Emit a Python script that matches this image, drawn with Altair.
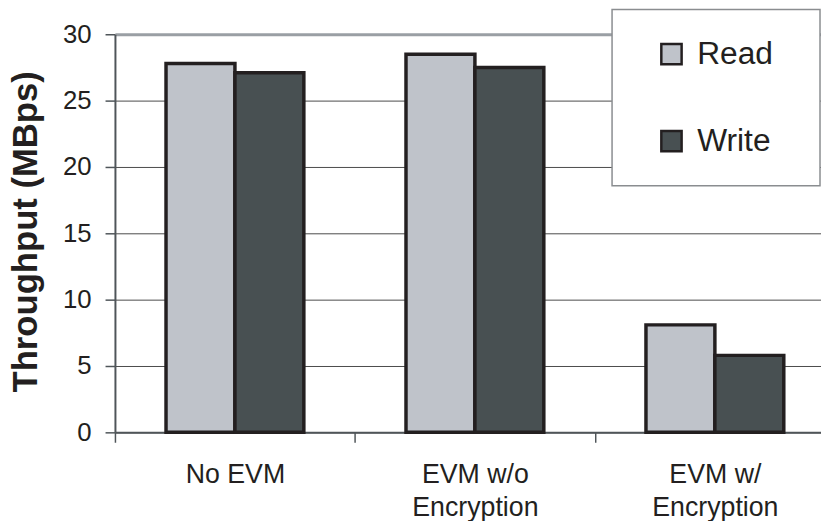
import altair as alt
import pandas as pd

categories = ["No EVM", "EVM w/o\nEncryption", "EVM w/\nEncryption"]
series = ["Read", "Write"]
read_values = [27.8, 28.5, 8.1]
write_values = [27.1, 27.5, 5.8]
y_ticks = [0, 5, 10, 15, 20, 25, 30]
colors = ["#bfc3ca", "#485052"]

rows = []
for c, r, w in zip(categories, read_values, write_values):
    rows.append({"config": c, "op": "Read", "mbps": r})
    rows.append({"config": c, "op": "Write", "mbps": w})
df = pd.DataFrame(rows)

INK = "#231f20"
AXIS = "#4f5559"

chart = alt.Chart(df).mark_bar(stroke=INK, strokeWidth=3.5, opacity=1).encode(
    x=alt.X(
        "config:N",
        sort=categories,
        scale=alt.Scale(range=[0, 727], paddingInner=0, paddingOuter=0),
        axis=alt.Axis(
            title=None,
            labelAngle=0,
            labelExpr="split(datum.label, '\\n')",
            tickBand="extent",
            labelFontSize=27,
            labelLineHeight=33,
            labelPadding=20,
            labelColor=INK,
            tickSize=10,
            tickColor=AXIS,
            tickWidth=1.5,
            domainColor=AXIS,
            domainWidth=2,
            grid=False,
        ),
    ),
    xOffset=alt.XOffset(
        "op:N", sort=series, scale=alt.Scale(paddingInner=0, paddingOuter=0.741)
    ),
    y=alt.Y(
        "mbps:Q",
        scale=alt.Scale(domain=[0, 30], nice=False),
        axis=alt.Axis(
            values=y_ticks,
            title="Throughput (MBps)",
            titleFontSize=35,
            titleFontWeight="bold",
            titleColor=INK,
            titleX=-72,
            titleY=199,
            titleBaseline="bottom",
            labelFontSize=26,
            labelColor=INK,
            labelPadding=14,
            tickSize=10,
            tickColor=AXIS,
            tickWidth=1.5,
            domainColor=AXIS,
            domainWidth=2,
            grid=True,
            gridColor=alt.condition("datum.value == 30", alt.value("#9a9fa4"), alt.value("#4a4a4a")),
            gridWidth=alt.condition("datum.value == 30", alt.value(3), alt.value(1)),
        ),
    ),
    color=alt.Color(
        "op:N",
        sort=series,
        scale=alt.Scale(domain=series, range=colors),
        legend=alt.Legend(
            title="\u00a0",
            titleOrient="left",
            titleFontSize=10,
            titlePadding=15,
            orient="none",
            direction="vertical",
            legendX=502,
            legendY=-25,
            padding=29,
            fillColor="white",
            strokeColor="#8a8d90",
            symbolType="square",
            symbolSize=420,
            symbolStrokeColor=INK,
            symbolStrokeWidth=2.5,
            symbolOpacity=1,
            labelFontSize=32,
            labelColor=INK,
            labelOffset=10,
            labelExpr="datum.label + '\u00a0\u00a0\u200b'",
            rowPadding=56,
        ),
    ),
).properties(
    width=713,
    height=402,
    autosize=alt.AutoSizeParams(type="none"),
    padding={"left": 108, "top": 24, "right": 0, "bottom": 87},
).configure(
    font="Liberation Sans",
).configure_legend(
    strokeWidth=1.5,
).configure_view(
    stroke=None,
)

chart.save("out.html", embed_options={"renderer": "svg", "actions": False})
